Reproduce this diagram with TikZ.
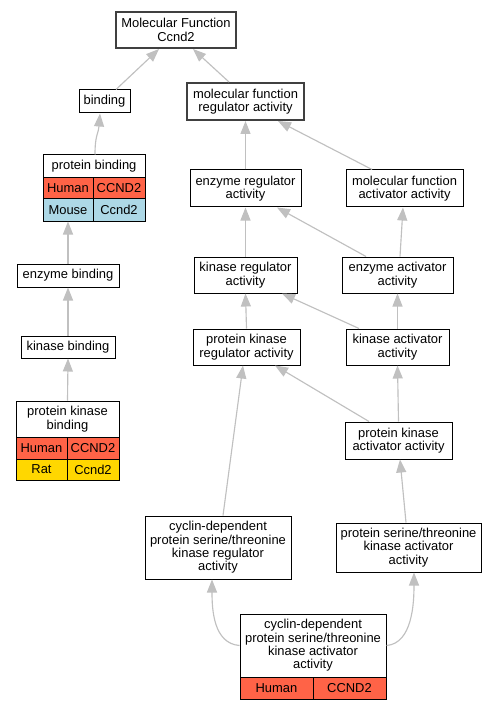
\documentclass[tikz,border=0pt]{standalone}
\usepackage{fontspec}
\setmainfont{Liberation Sans}
\usetikzlibrary{arrows.meta,calc}
\definecolor{humanc}{HTML}{FF6347}
\definecolor{mousec}{HTML}{ADD8E6}
\definecolor{ratc}{HTML}{FFD700}
\definecolor{edgec}{HTML}{C0C0C0}
\definecolor{boldc}{HTML}{404040}
\begin{document}
\begin{tikzpicture}[x=0.75pt,y=-0.75pt,
  every node/.style={font=\fontsize{9.7}{10}\selectfont},
  gobox/.style={draw=black, line width=0.75pt, fill=white, inner sep=0pt, align=center, minimum width=#1*0.75pt},
  gobox/.default=100,
  boldbox/.style={gobox=#1, draw=boldc, line width=1.5pt},
  cell/.style={draw=black, line width=0.75pt, inner sep=0pt, align=center, minimum width=#1*0.75pt},
  hum/.style={fill=humanc},
  mou/.style={fill=mousec},
  rat/.style={fill=ratc},
  isa/.style={draw=edgec, line width=0.85pt, -{Triangle[length=9.75pt,width=7.5pt]}}
]
\useasboundingbox (0,0) rectangle (496,709);
\fill[white] (0,0) rectangle (496,709);

% nodes
\node[boldbox=120, minimum height=27pt] (mf) at (176,30) {Molecular Function\\Ccnd2};
\node[gobox=51, minimum height=17.25pt] (binding) at (104.5,101.5) {binding};
\node[boldbox=117, minimum height=27.75pt] (mfra) at (245.5,101.5) {molecular function\\regulator activity};

\node[gobox=102, minimum height=17.25pt] (pbt) at (94,166.5) {protein binding};
\node[cell=50, hum, minimum height=15.75pt] (pbh1) at (68,188.5) {Human};
\node[cell=52, hum, minimum height=15.75pt] (pbh2) at (119,188.5) {CCND2};
\node[cell=50, mou, minimum height=16.5pt] (pbm1) at (68,210) {Mouse};
\node[cell=52, mou, minimum height=16.5pt] (pbm2) at (119,210) {Ccnd2};

\node[gobox=111, minimum height=27.75pt] (era) at (245.5,188.5) {enzyme regulator\\activity};
\node[gobox=117, minimum height=27.75pt] (mfaa) at (404.5,188.5) {molecular function\\activator activity};

\node[gobox=102, minimum height=17.25pt] (eb) at (68,275.5) {enzyme binding};
\node[gobox=103, minimum height=27pt] (kra) at (245.5,275) {kinase regulator\\activity};
\node[gobox=111, minimum height=27pt] (eaa) at (397.5,275) {enzyme activator\\activity};

\node[gobox=94, minimum height=16.5pt] (kb) at (68,347) {kinase binding};
\node[gobox=107, minimum height=27pt] (pkra) at (246.5,347) {protein kinase\\regulator activity};
\node[gobox=103, minimum height=27pt] (kaa) at (397.5,347) {kinase activator\\activity};

\node[gobox=103, minimum height=27pt] (pkbt) at (67.5,419) {protein kinase\\binding};
\node[cell=51, hum, minimum height=16.5pt] (pkbh1) at (41.5,448) {Human};
\node[cell=52, hum, minimum height=16.5pt] (pkbh2) at (93,448) {CCND2};
\node[cell=51, rat, minimum height=15.75pt] (pkbr1) at (41.5,469.5) {Rat};
\node[cell=52, rat, minimum height=15.75pt] (pkbr2) at (93,469.5) {Ccnd2};

\node[gobox=107, minimum height=27.75pt] (pkaa) at (398.5,440.5) {protein kinase\\activator activity};

\node[gobox=146, minimum height=47.25pt] (cdkra) at (218,547.5) {cyclin-dependent\\protein serine/threonine\\kinase regulator\\activity};
\node[gobox=145, minimum height=36.75pt] (pstkaa) at (408.5,547.5) {protein serine/threonine\\kinase activator\\activity};

\node[gobox=146, minimum height=47.25pt] (cdkaa) at (313,645.5) {cyclin-dependent\\protein serine/threonine\\kinase activator\\activity};
\node[cell=73, hum, minimum height=16.5pt] (cdkh1) at (276.5,688) {Human};
\node[cell=73, hum, minimum height=16.5pt] (cdkh2) at (349.5,688) {CCND2};

% edges
\draw[isa] ($(binding.north)+(11.5,0)$) -- ($(mf.south)+(-17,0)$);
\draw[isa] ($(mfra.north)+(-16.5,0)$) -- ($(mf.south)+(17,0)$);
\draw[isa] ($(pbt.north)+(1,0)$) .. controls ($(pbt.north)+(1,-20)$) and ($(binding.south)+(-6,20)$) .. ($(binding.south)+(-4.5,0)$);
\draw[isa] (eb.north) -- (pbm1.south);
\draw[isa] (kb.north) -- (eb.south);
\draw[isa] (pkbt.north) -- (kb.south);
\draw[isa] (era.north) -- (mfra.south);
\draw[isa] ($(mfaa.north)+(-32.5,0)$) -- ($(mfra.south)+(32.5,0)$);
\draw[isa] (kra.north) -- (era.south);
\draw[isa] ($(eaa.north)+(-31.5,0)$) -- ($(era.south)+(31.5,0)$);
\draw[isa] ($(eaa.north)+(2.5,0)$) -- ($(mfaa.south)+(-1.5,0)$);
\draw[isa] (pkra.north) -- (kra.south);
\draw[isa] ($(kaa.north)+(-38.5,0)$) -- ($(kra.south)+(36.5,0)$);
\draw[isa] (kaa.north) -- (eaa.south);
\draw[isa] ($(pkaa.north)+(-29.5,0)$) -- ($(pkra.south)+(28.5,0)$);
\draw[isa] (pkaa.north) -- (kaa.south);
\draw[isa] ($(cdkra.north)+(5,0)$) -- ($(pkra.south)+(-3.5,0)$);
\draw[isa] ($(pstkaa.north)+(-2.5,0)$) -- ($(pkaa.south)+(1.5,0)$);
\draw[isa] (cdkaa.west) .. controls ($(cdkaa.west)+(-26,-2)$) and ($(cdkra.south)+(-6,30)$) .. ($(cdkra.south)+(-6,0)$);
\draw[isa] (cdkaa.east) .. controls ($(cdkaa.east)+(26,-2)$) and ($(pstkaa.south)+(5.5,30)$) .. ($(pstkaa.south)+(5.5,0)$);
\end{tikzpicture}
\end{document}
